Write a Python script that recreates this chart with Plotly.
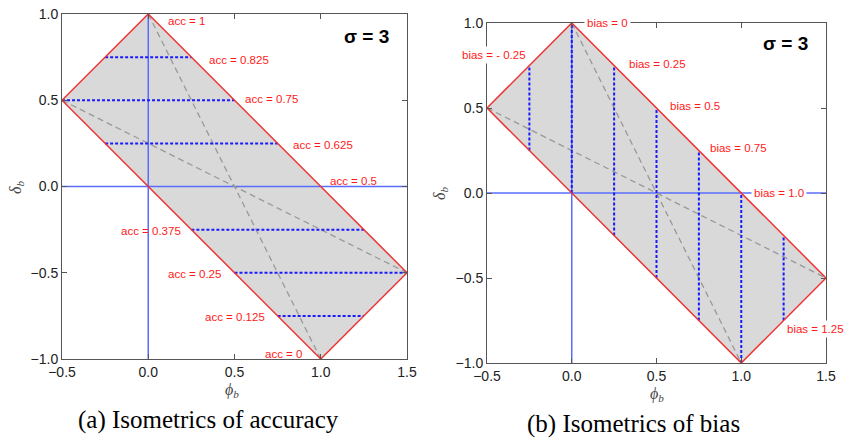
import plotly.graph_objects as go

# ---------------- data ----------------
# feasible region (phi_b, delta_b) for sigma = 3
region_x = [0.0, 1.5, 1.0, -0.5, 0.0]
region_y = [1.0, -0.5, -1.0, 0.5, 1.0]

# gray dashed diagonals
diag1_x = [0.0, 1.0]
diag1_y = [1.0, -1.0]
diag2_x = [-0.5, 1.5]
diag2_y = [0.5, -0.5]

# accuracy isometrics (horizontal): level y, x-start, x-end
acc_y = [0.75, 0.5, 0.25, -0.25, -0.5, -0.75]
acc_x0 = [-0.25, -0.5, -0.25, 0.25, 0.5, 0.75]
acc_x1 = [0.25, 0.5, 0.75, 1.25, 1.5, 1.25]

acc_labels = ["acc = 1", "acc = 0.825", "acc = 0.75", "acc = 0.625", "acc = 0.5",
              "acc = 0.375", "acc = 0.25", "acc = 0.125", "acc = 0"]
acc_label_x = [0.105, 0.34, 0.55, 0.83, 1.04, -0.17, 0.10, 0.32, 0.665]
acc_label_y = [0.96, 0.735, 0.505, 0.24, 0.03, -0.26, -0.51, -0.755, -0.97]

# bias isometrics (vertical): level x, y-start, y-end
bias_x = [-0.25, 0.0, 0.25, 0.5, 0.75, 1.0, 1.25]
bias_y0 = [0.25, 0.0, -0.25, -0.5, -0.75, -1.0, -0.75]
bias_y1 = [0.75, 1.0, 0.75, 0.5, 0.25, 0.0, -0.25]

bias_labels = ["bias = 0", "bias = - 0.25", "bias = 0.25", "bias = 0.5",
               "bias = 0.75", "bias = 1.0", "bias = 1.25"]
bias_label_x = [0.07, -0.255, 0.32, 0.56, 0.80, 1.06, 1.255]
bias_label_y = [1.0, 0.81, 0.76, 0.51, 0.265, 0.0, -0.80]
bias_label_anchor = ["left", "right", "left", "left", "left", "left", "left"]

x_ticks = [-0.5, 0.0, 0.5, 1.0, 1.5]
y_ticks = [-1.0, -0.5, 0.0, 0.5, 1.0]

# ---------------- style ----------------
RED = "#ee3333"
BLUE_AX = "#5a6cff"
BLUE_DOT = "#1a1aff"
GRAY_FILL = "#d9d9d9"
GRAY_DASH = "#999999"
LABEL_RED = "#ff1a1a"

fig = go.Figure()


def add_panel(xa, ya):
    xr = "x" if xa == 1 else f"x{xa}"
    yr = "y" if ya == 1 else f"y{ya}"
    fig.add_trace(go.Scatter(x=region_x, y=region_y, fill="toself", fillcolor=GRAY_FILL,
                             line=dict(width=0), mode="lines", xaxis=xr, yaxis=yr,
                             showlegend=False, hoverinfo="skip"))
    fig.add_trace(go.Scatter(x=[0, 0], y=[-1, 1], mode="lines",
                             line=dict(color=BLUE_AX, width=1.5), xaxis=xr, yaxis=yr,
                             showlegend=False, hoverinfo="skip"))
    fig.add_trace(go.Scatter(x=[-0.5, 1.5], y=[0, 0], mode="lines",
                             line=dict(color=BLUE_AX, width=1.5), xaxis=xr, yaxis=yr,
                             showlegend=False, hoverinfo="skip"))
    for dx, dy in ((diag1_x, diag1_y), (diag2_x, diag2_y)):
        fig.add_trace(go.Scatter(x=dx, y=dy, mode="lines",
                                 line=dict(color=GRAY_DASH, width=1.3, dash="6px,4px"),
                                 xaxis=xr, yaxis=yr, showlegend=False, hoverinfo="skip"))
    return xr, yr


xr, yr = add_panel(1, 1)
for y, x0, x1 in zip(acc_y, acc_x0, acc_x1):
    fig.add_trace(go.Scatter(x=[x0, x1], y=[y, y], mode="lines",
                             line=dict(color=BLUE_DOT, width=2, dash="3px,2px"),
                             xaxis=xr, yaxis=yr, showlegend=False, hoverinfo="skip"))
fig.add_trace(go.Scatter(x=region_x, y=region_y, mode="lines",
                         line=dict(color=RED, width=1.5), xaxis=xr, yaxis=yr,
                         showlegend=False, hoverinfo="skip"))

xr2, yr2 = add_panel(2, 2)
for x, y0, y1 in zip(bias_x, bias_y0, bias_y1):
    fig.add_trace(go.Scatter(x=[x, x], y=[y0, y1], mode="lines",
                             line=dict(color=BLUE_DOT, width=2, dash="3px,2px"),
                             xaxis=xr2, yaxis=yr2, showlegend=False, hoverinfo="skip"))
fig.add_trace(go.Scatter(x=region_x, y=region_y, mode="lines",
                         line=dict(color=RED, width=1.5), xaxis=xr2, yaxis=yr2,
                         showlegend=False, hoverinfo="skip"))

annotations = []
lab_font = dict(family="Liberation Sans, Arial, sans-serif", size=11.5, color=LABEL_RED)
for t, x, y in zip(acc_labels, acc_label_x, acc_label_y):
    annotations.append(dict(text=t, x=x, y=y, xref="x", yref="y", xanchor="left",
                            yanchor="middle", showarrow=False, font=lab_font))
for t, x, y, a in zip(bias_labels, bias_label_x, bias_label_y, bias_label_anchor):
    annotations.append(dict(text=t, x=x, y=y, xref="x2", yref="y2", xanchor=a,
                            yanchor="middle", showarrow=False, font=lab_font,
                            bgcolor="white", borderpad=2))


def paper_note(text, px, py, font, angle=0):
    return dict(text=text, x=px / 845, y=1 - py / 443, xref="paper", yref="paper",
                xanchor="center", yanchor="middle", showarrow=False, font=font,
                textangle=angle)


sig_font = dict(family="Liberation Sans, Arial, sans-serif", size=19, color="black")
annotations.append(paper_note("<b>σ = 3</b>", 366, 36, sig_font))
annotations.append(paper_note("<b>σ = 3</b>", 785, 44, sig_font))

ax_font = dict(family="Liberation Serif, DejaVu Serif, serif", size=16, color="#444")
annotations += [
    paper_note("<i>ϕ<sub>b</sub></i>", 232, 390, ax_font),
    paper_note("<i>ϕ<sub>b</sub></i>", 657, 394, ax_font),
    paper_note("<i>δ<sub>b</sub></i>", 16, 188, ax_font, -90),
    paper_note("<i>δ<sub>b</sub></i>", 441, 193, ax_font, -90),
]

cap_font = dict(family="Liberation Serif, serif", size=25, color="black")
annotations += [
    paper_note("(a) Isometrics of accuracy", 208, 420, cap_font),
    paper_note("(b) Isometrics of bias", 633, 424, cap_font),
]

axis_common = dict(showgrid=False, zeroline=False, showline=True, linecolor="#555",
                   linewidth=1, mirror="ticks", ticks="inside", ticklen=5, tickcolor="#555",
                   tickfont=dict(family="Liberation Sans, Arial, sans-serif", size=14,
                                 color="#222"),
                   tickformat=".1f", fixedrange=True, automargin=False)

fig.update_layout(
    width=845, height=443, margin=dict(l=0, r=0, t=0, b=0, autoexpand=False),
    paper_bgcolor="white", plot_bgcolor="white", showlegend=False,
    xaxis=dict(domain=[62 / 845, 407 / 845], range=[-0.5, 1.5], tickvals=x_ticks,
               anchor="y", **axis_common),
    yaxis=dict(domain=[1 - 359 / 443, 1 - 14 / 443], range=[-1, 1], tickvals=y_ticks,
               anchor="x", **axis_common),
    xaxis2=dict(domain=[487 / 845, 826 / 845], range=[-0.5, 1.5], tickvals=x_ticks,
                anchor="y2", **axis_common),
    yaxis2=dict(domain=[1 - 363 / 443, 1 - 23 / 443], range=[-1, 1], tickvals=y_ticks,
                anchor="x2", **axis_common),
    annotations=annotations,
)

fig.write_html("out.html")
